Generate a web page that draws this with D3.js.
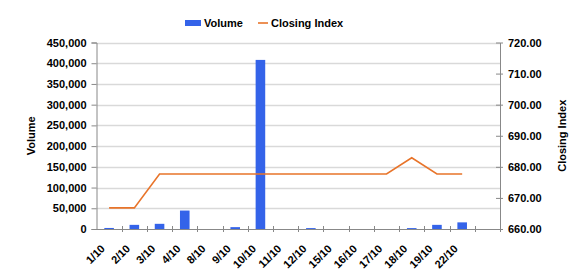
<!DOCTYPE html>
<html>
<head>
<meta charset="utf-8">
<script src="https://cdn.jsdelivr.net/npm/d3@7"></script>
<style>
  body { margin: 0; background: #fff; }
  text { font-family: "Liberation Sans", Arial, sans-serif; font-weight: bold; fill: #000; }
</style>
</head>
<body>
<div id="chart"></div>
<script>
// dati
var dates = ["1/10", "2/10", "3/10", "4/10", "8/10", "9/10", "10/10", "11/10", "12/10", "15/10", "16/10", "17/10", "18/10", "19/10", "22/10", ""];
var volume = [2500, 10000, 12500, 44500, 0, 4500, 408000, 0, 2200, 0, 0, 0, 2200, 10000, 16000];
var closing = [666.8, 666.8, 677.7, 677.7, 677.7, 677.7, 677.7, 677.7, 677.7, 677.7, 677.7, 677.7, 682.9, 677.7, 677.7];
var volTicks = [0, 50000, 100000, 150000, 200000, 250000, 300000, 350000, 400000, 450000];
var idxTicks = [660, 670, 680, 690, 700, 710, 720];

var width = 580, height = 278;
var margin = {top: 42.5, right: 80, bottom: 49, left: 96.5};

var svg = d3.select("#chart").append("svg")
  .attr("width", width)
  .attr("height", height);

var x = d3.scaleBand()
  .domain(d3.range(dates.length))
  .range([margin.left, width - margin.right]);

var yVol = d3.scaleLinear()
  .domain([0, 450000])
  .range([height - margin.bottom, margin.top]);

var yIdx = d3.scaleLinear()
  .domain([660, 720])
  .range([height - margin.bottom, margin.top]);

var fmtVol = d3.format(",");
var fmtIdx = d3.format(".2f");

// griglia
svg.append("g").selectAll("line")
  .data(volTicks.slice(1))
  .enter().append("line")
  .attr("x1", margin.left).attr("x2", width - margin.right)
  .attr("y1", function(d){ return Math.round(yVol(d)) + 0.5; })
  .attr("y2", function(d){ return Math.round(yVol(d)) + 0.5; })
  .style("stroke", "#d9d9d9")
  .style("stroke-width", 1.5);

// barre
svg.append("g").selectAll("rect")
  .data(volume)
  .enter().append("rect")
  .attr("x", function(d, i){ return x(i) + x.bandwidth() * 0.31; })
  .attr("width", x.bandwidth() * 0.38)
  .attr("y", function(d){ return yVol(d); })
  .attr("height", function(d){ return yVol(0) - yVol(d); })
  .style("fill", "#3463e9");

// linea
var line = d3.line()
  .x(function(d, i){ return x(i) + x.bandwidth() / 2; })
  .y(function(d){ return yIdx(d); });

svg.append("path")
  .datum(closing)
  .attr("d", line)
  .style("fill", "none")
  .style("stroke", "#e8742a")
  .style("stroke-width", 1.6);

// asse sinistro
var axisLeft = svg.append("g")
  .attr("transform", "translate(" + margin.left + ",0)")
  .call(d3.axisLeft(yVol).tickValues(volTicks).tickFormat(fmtVol).tickSize(5).tickPadding(5));

// asse destro
var axisRight = svg.append("g")
  .attr("transform", "translate(" + (width - margin.right) + ",0)")
  .call(d3.axisRight(yIdx).tickValues(idxTicks).tickFormat(fmtIdx).tickSize(0).tickPadding(8));
axisRight.selectAll(".tick").append("line")
  .attr("x1", -4).attr("x2", 3);

// asse x
var xAxis = d3.axisBottom(x).tickSize(0).tickFormat(function(i){ return dates[i]; });
var axisBottom = svg.append("g")
  .attr("transform", "translate(0," + (height - margin.bottom) + ")")
  .call(xAxis);

axisBottom.selectAll(".tick text")
  .attr("text-anchor", "end")
  .attr("transform", "translate(-9,15) rotate(-45)")
  .attr("dy", "0.7em")
  .attr("x", 0).attr("y", 0);

// tacche tra le categorie
svg.append("g").selectAll("line")
  .data(d3.range(1, dates.length + 1))
  .enter().append("line")
  .attr("x1", function(i){ return Math.round(x(i) !== undefined ? x(i) : x.range()[1]) + 0.5; })
  .attr("x2", function(i){ return Math.round(x(i) !== undefined ? x(i) : x.range()[1]) + 0.5; })
  .attr("y1", height - margin.bottom - 3)
  .attr("y2", height - margin.bottom + 3)
  .style("stroke", "#888");

svg.selectAll(".domain").style("stroke", "#888");
svg.selectAll(".tick line").style("stroke", "#888");
svg.selectAll(".tick text").style("font-size", "11px").style("font-family", "Liberation Sans, Arial, sans-serif").style("font-weight", "bold");

// titoli degli assi
svg.append("text")
  .attr("transform", "translate(35," + ((margin.top + height - margin.bottom) / 2) + ") rotate(-90)")
  .attr("text-anchor", "middle")
  .style("font-size", "11px")
  .text("Volume");

svg.append("text")
  .attr("transform", "translate(566," + ((margin.top + height - margin.bottom) / 2) + ") rotate(-90)")
  .attr("text-anchor", "middle")
  .style("font-size", "11px")
  .text("Closing Index");

// legenda
var legend = svg.append("g");
legend.append("rect")
  .attr("x", 185).attr("y", 20).attr("width", 16).attr("height", 6)
  .style("fill", "#3463e9");
legend.append("text")
  .attr("x", 204).attr("y", 27)
  .style("font-size", "11px")
  .text("Volume");
legend.append("line")
  .attr("x1", 258).attr("x2", 268).attr("y1", 23).attr("y2", 23)
  .style("stroke", "#e8742a").style("stroke-width", 1.6);
legend.append("text")
  .attr("x", 271).attr("y", 27)
  .style("font-size", "11px")
  .text("Closing Index");
</script>
</body>
</html>
